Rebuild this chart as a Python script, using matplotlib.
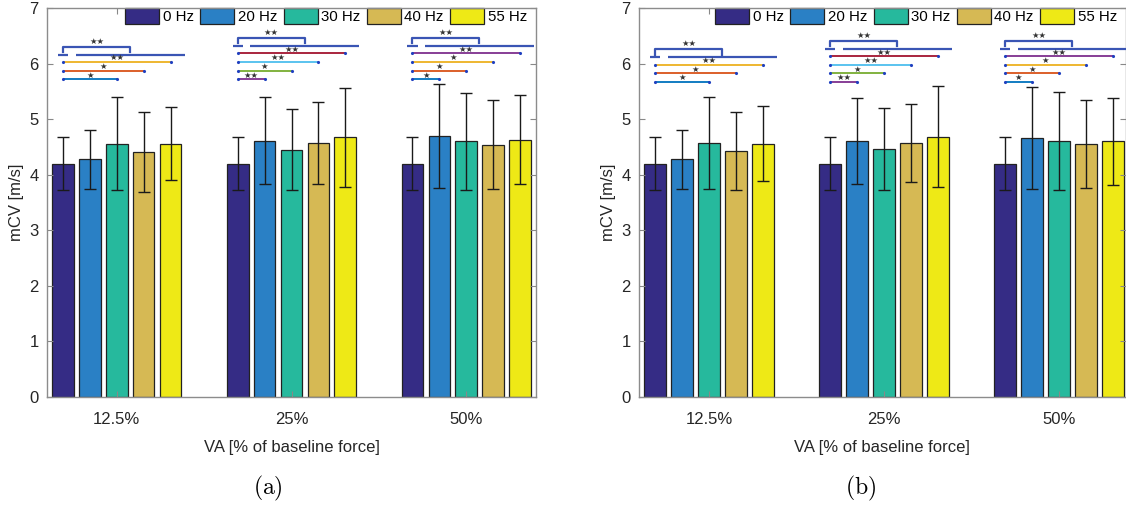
import numpy as np
import matplotlib.pyplot as plt
from matplotlib.patches import Patch

plt.rcParams['font.family'] = ['Liberation Sans', 'DejaVu Sans']
plt.rcParams['mathtext.fontset'] = 'cm'

# categories
va_levels = ['12.5%', '25%', '50%']
freqs = ['0 Hz', '20 Hz', '30 Hz', '40 Hz', '55 Hz']

# mean mCV (rows = VA level, cols = frequency)
mean_a = [[4.20, 4.28, 4.56, 4.41, 4.56],
          [4.20, 4.61, 4.45, 4.57, 4.67],
          [4.20, 4.70, 4.60, 4.54, 4.63]]
sd_a = [[0.48, 0.53, 0.84, 0.72, 0.66],
        [0.48, 0.78, 0.73, 0.73, 0.89],
        [0.48, 0.94, 0.87, 0.80, 0.80]]

mean_b = [[4.20, 4.28, 4.57, 4.43, 4.56],
          [4.20, 4.61, 4.46, 4.57, 4.68],
          [4.20, 4.66, 4.61, 4.55, 4.60]]
sd_b = [[0.48, 0.53, 0.83, 0.70, 0.67],
        [0.48, 0.77, 0.74, 0.71, 0.91],
        [0.48, 0.92, 0.88, 0.79, 0.78]]

# pairwise tests vs 0 Hz: (frequency index, stars), bottom to top
sig_pairs = [[(2, '*'), (3, '*'), (4, '**')],
             [(1, '**'), (2, '*'), (3, '**'), (4, '**')],
             [(1, '*'), (2, '*'), (3, '*'), (4, '**')]]
sig_colors = [['#0072BD', '#D95319', '#EDB120'],
              ['#7E2F8E', '#77AC30', '#4DBEEE', '#A2142F'],
              ['#0072BD', '#D95319', '#EDB120', '#7E2F8E']]
# 0 Hz vs all other frequencies
group_stars = ['**', '**', '**']

bar_colors = ['#352c85', '#2a80c5', '#26b99d', '#d6b954', '#eee916']
bracket_color = '#3a55b4'
star = '\u2605'

W, H = 1126, 505
fig = plt.figure(figsize=(W / 100, H / 100), dpi=100)


def panel(rect, means, sds, xlim, base, step, leg_x, caption, cap_x):
    ax = fig.add_axes(rect)
    means = np.array(means)
    sds = np.array(sds)
    x = np.arange(1, len(va_levels) + 1)
    gw = 5 / 6.5
    off = (np.arange(5) - 2) * gw / 5
    bw = 0.8 * gw / 5
    for j in range(5):
        ax.bar(x + off[j], means[:, j], bw, color=bar_colors[j],
               edgecolor='#222222', linewidth=0.9, zorder=1)
        ax.errorbar(x + off[j], means[:, j], yerr=sds[:, j], fmt='none',
                    ecolor='#1a1a1a', elinewidth=1.0, capsize=4.5,
                    capthick=1.0, zorder=3)

    for g in range(len(va_levels)):
        pairs = sig_pairs[g]
        n = len(pairs)
        for k, (fi, s) in enumerate(pairs):
            y = base + k * step
            x0 = x[g] + off[0]
            x1 = x[g] + off[fi]
            ax.plot([x0, x1], [y, y], color=sig_colors[g][k], lw=1.3,
                    solid_capstyle='butt', zorder=4)
            ax.plot([x0, x1], [y, y], ls='none', marker='.', ms=2.5,
                    color='#2040c0', zorder=5)
            ax.text((x0 + x1) / 2, y + 0.07, star * len(s), ha='center',
                    va='center', fontsize=6, color='#333333',
                    family=['DejaVu Sans'], zorder=6)
        # bracket 0 Hz vs rest
        gy = base + (n - 1) * step + 0.128
        by = gy + 0.144
        x0 = x[g] + off[0]
        rest_l = x[g] + off[1] - 0.082
        rest_r = x[g] + off[4] + 0.08
        xm = (rest_l + rest_r) / 2
        ax.plot([x0 - 0.03, x0 + 0.03], [gy, gy], color=bracket_color, lw=1.6,
                solid_capstyle='butt', zorder=4)
        ax.plot([rest_l, rest_r], [gy, gy], color=bracket_color, lw=1.6,
                solid_capstyle='butt', zorder=4)
        ax.plot([x0, x0, xm, xm], [gy + 0.05, by, by, gy + 0.05],
                color=bracket_color, lw=1.6, zorder=4)
        ax.text((x0 + xm) / 2, by + 0.1, star * len(group_stars[g]),
                ha='center', va='center', fontsize=6, color='#333333',
                family=['DejaVu Sans'], zorder=6)

    ax.set_xlim(*xlim)
    ax.set_ylim(0, 7)
    ax.set_xticks(x)
    ax.set_xticklabels(va_levels)
    ax.set_yticks(range(8))
    ax.tick_params(direction='in', length=4, width=0.8, color='#888888',
                   labelsize=12, labelcolor='#262626', top=True, right=True,
                   pad=6)
    ax.tick_params(axis='x', pad=11)
    for sp in ax.spines.values():
        sp.set_color('#8c8c8c')
        sp.set_linewidth(1.0)
    ax.set_xlabel('VA [% of baseline force]', fontsize=12, color='#262626',
                  labelpad=9)
    ax.set_ylabel('mCV [m/s]', fontsize=12, color='#262626', labelpad=4)

    handles = [Patch(facecolor=c, edgecolor='#222222', linewidth=0.9)
               for c in bar_colors]
    leg = ax.legend(handles, freqs, ncol=5, loc='upper left',
                    bbox_to_anchor=(leg_x, 1.0), fontsize=10.8,
                    handlelength=2.27, handleheight=1.25, handletextpad=0.23,
                    columnspacing=0.43, borderpad=0.02, borderaxespad=0,
                    frameon=True, fancybox=False, edgecolor='none',
                    facecolor='white', framealpha=1)
    leg.set_zorder(2.4)
    fig.text(cap_x / W, 1 - 488 / H, caption, ha='center', va='center',
             fontsize=17)
    return ax


panel([47 / W, (H - 397) / H, 489 / W, 389 / H], mean_a, sd_a, (0.6, 3.4),
      5.717, 0.158, (125 - 47) / 489, r'$\mathrm{(a)}$', 268)
panel([639 / W, (H - 397) / H, 486.5 / W, 389 / H], mean_b, sd_b, (0.6, 3.38),
      5.674, 0.154, (715 - 639) / 486.5, r'$\mathrm{(b)}$', 861)

fig.savefig('out.png', dpi=100)
